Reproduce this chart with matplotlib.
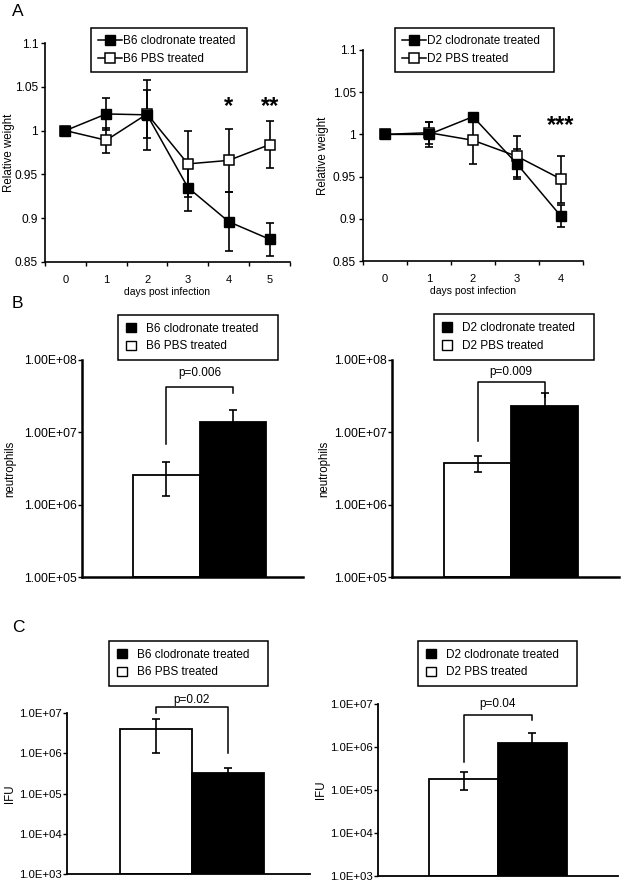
import matplotlib
matplotlib.use("Agg")
import matplotlib.pyplot as plt
import numpy as np
from matplotlib.patches import Patch
from matplotlib.ticker import FixedLocator, FuncFormatter

plt.rcParams['font.family'] = ['Liberation Sans', 'DejaVu Sans']

W, H = 623, 882

# ---------------- data ----------------
# Panel A: relative weight
b6_days = [0, 1, 2, 3, 4, 5]
b6_clod = [1.0, 1.019, 1.018, 0.935, 0.896, 0.876]
b6_clod_err = [0.0, 0.018, 0.040, 0.027, 0.034, 0.019]
b6_pbs = [1.0, 0.989, 1.019, 0.962, 0.966, 0.984]
b6_pbs_err = [0.0, 0.014, 0.027, 0.038, 0.036, 0.027]
b6_stars = {4: "*", 5: "**"}

d2_days = [0, 1, 2, 3, 4]
d2_clod = [1.0, 1.0, 1.021, 0.965, 0.903]
d2_clod_err = [0.0, 0.015, 0.003, 0.018, 0.013]
d2_pbs = [1.0, 1.002, 0.993, 0.974, 0.947]
d2_pbs_err = [0.0, 0.013, 0.028, 0.024, 0.028]
d2_stars = {4: "***"}

# Panel B: neutrophils (PBS, clodronate)
b6_neut = [2.6e6, 1.38e7]
b6_neut_err = [1.3e6, 6.6e6]
d2_neut = [3.76e6, 2.3e7]
d2_neut_err = [0.95e6, 1.2e7]
neut_ticks = [1e5, 1e6, 1e7, 1e8]
p_b6_neut = "p=0.006"
p_d2_neut = "p=0.009"

# Panel C: IFU (PBS, clodronate)
b6_ifu = [4.0e6, 3.2e5]
b6_ifu_err = [3.0e6, 1.0e5]
d2_ifu = [1.8e5, 1.24e6]
d2_ifu_err = [0.78e5, 0.86e6]
ifu_ticks = [1e3, 1e4, 1e5, 1e6, 1e7]
p_b6_ifu = "p=0.02"
p_d2_ifu = "p=0.04"

fig = plt.figure(figsize=(W / 100, H / 100), dpi=100)


def ax_px(l, t, r, b):
    return fig.add_axes([l / W, 1 - b / H, (r - l) / W, (b - t) / H])


def fig_box(l, t, r, b):
    return (l / W, 1 - b / H, (r - l) / W, (b - t) / H)


def fig_xy(x, y):
    return (x / W, 1 - y / H)


def set_ylabel_px(ax, box, text, x_right_px, size):
    ax.set_ylabel(text, fontsize=size)
    l, t, r, b = box
    ax.yaxis.set_label_coords((x_right_px - l) / (r - l), 0.5)


# ---------------- Panel A ----------------
def weight_panel(box, days, clod, clod_err, pbs, pbs_err, stars, star_y,
                 labels, leg_box, label_x):
    ax = ax_px(*box)
    for vals, errs, zo in [(pbs, pbs_err, 3), (clod, clod_err, 4)]:
        ax.errorbar(days, vals, yerr=errs, fmt='none', ecolor='black',
                    elinewidth=1.2, capsize=3, capthick=1.2, zorder=zo - 1)
    lc, = ax.plot(days, clod, color='black', lw=1.1, marker='s', ms=7.5,
                  mfc='black', mec='black', zorder=4)
    lp, = ax.plot(days, pbs, color='black', lw=1.1, marker='s', ms=7.5,
                  mfc='white', mec='black', mew=1.1, zorder=3)
    for d, s in stars.items():
        ax.text(d, star_y, s, ha='center', va='center', fontsize=17,
                fontweight='bold')
    n = len(days)
    ax.set_xlim(-0.5, n - 0.5)
    ax.set_ylim(0.85, 1.1)
    yt = [0.85, 0.9, 0.95, 1.0, 1.05, 1.1]
    ax.set_yticks(yt)
    ax.set_yticklabels(["0.85", "0.9", "0.95", "1", "1.05", "1.1"])
    ax.set_xticks(days)
    ax.set_xticklabels([str(d) for d in days])
    ax.xaxis.set_minor_locator(FixedLocator(np.arange(-0.5, n, 1.0)))
    ax.tick_params(axis='x', which='major', length=0, pad=9.5, labelsize=8)
    ax.tick_params(axis='x', which='minor', length=3, width=1, direction='out')
    ax.tick_params(axis='y', length=3, width=1, labelsize=8.6, pad=2)
    for s in ['top', 'right']:
        ax.spines[s].set_visible(False)
    for s in ['left', 'bottom']:
        ax.spines[s].set_linewidth(1.2)
    set_ylabel_px(ax, box, "Relative weight", label_x, 8.3)
    ax.set_xlabel("days post infection", fontsize=7.5, labelpad=1.5)
    leg = ax.legend([lc, lp], labels, loc='center', mode='expand',
                    bbox_to_anchor=fig_box(*leg_box),
                    bbox_transform=fig.transFigure, frameon=True,
                    fancybox=False, edgecolor='black', fontsize=8.5,
                    handlelength=2.0, handletextpad=0.1, borderpad=0.6,
                    labelspacing=0.45, borderaxespad=0, framealpha=1)
    leg.get_frame().set_linewidth(1.1)
    return ax


weight_panel((45, 43, 290, 262), b6_days, b6_clod, b6_clod_err, b6_pbs,
             b6_pbs_err, b6_stars, 1.027,
             ["B6 clodronate treated", "B6 PBS treated"], (91, 28, 247, 72), 15)
weight_panel((363, 50, 583, 261), d2_days, d2_clod, d2_clod_err, d2_pbs,
             d2_pbs_err, d2_stars, 1.011,
             ["D2 clodronate treated", "D2 PBS treated"], (395, 28, 554, 72), 329)


# ---------------- Bar panels ----------------
def bar_panel(box, xlim, ylim, ticks, fmt, vals, errs, ylabel, labels,
              leg_box, bracket, ptext, spine_w, tick_size, label_x):
    ax = ax_px(*box)
    ax.set_yscale('log')
    pos = [0, 1]
    colors = ['white', 'black']
    for p, v, e, c in zip(pos, vals, errs, colors):
        ax.bar(p, v - ylim[0], bottom=ylim[0], width=1.0, color=c,
               edgecolor='black', linewidth=1.3, zorder=2)
        ax.errorbar(p, v, yerr=e, fmt='none', ecolor='black',
                    elinewidth=1.2, capsize=3, capthick=1.2, zorder=3)
    top, lleg, rleg, ty = bracket
    ax.plot([0, 0, 1, 1], [lleg, top, top, rleg], color='black', lw=1.1,
            clip_on=False, zorder=4)
    ax.text(0.5, ty, ptext, ha='center', va='center', fontsize=8.5)
    ax.set_xlim(*xlim)
    ax.set_ylim(*ylim)
    ax.set_xticks([])
    ax.yaxis.set_major_locator(FixedLocator(ticks))
    ax.yaxis.set_minor_locator(FixedLocator([]))
    ax.yaxis.set_major_formatter(FuncFormatter(fmt))
    ax.tick_params(axis='y', length=3, width=1, labelsize=tick_size, pad=1)
    for s in ['top', 'right']:
        ax.spines[s].set_visible(False)
    ax.spines['left'].set_linewidth(spine_w)
    ax.spines['bottom'].set_linewidth(spine_w)
    set_ylabel_px(ax, box, ylabel, label_x, 8.3)
    handles = [Patch(facecolor='black', edgecolor='black'),
               Patch(facecolor='white', edgecolor='black', linewidth=1)]
    leg = ax.legend(handles, labels, loc='center', mode='expand',
                    bbox_to_anchor=fig_box(*leg_box),
                    bbox_transform=fig.transFigure, frameon=True,
                    fancybox=False, edgecolor='black', fontsize=8.5,
                    handlelength=0.85, handleheight=0.85, handletextpad=0.85,
                    borderpad=0.65, labelspacing=0.5, borderaxespad=0,
                    framealpha=1)
    leg.get_frame().set_linewidth(1.1)
    return ax


def fmt2(v, _):
    e = int(round(np.log10(v)))
    return "1.00E+%02d" % e


def fmt1(v, _):
    e = int(round(np.log10(v)))
    return "1.0E+%02d" % e


bar_panel((82, 360, 303, 577), (-1.267, 2.056), (1e5, 1e8), neut_ticks, fmt2,
          b6_neut, b6_neut_err, "neutrophils",
          ["B6 clodronate treated", "B6 PBS treated"], (118, 315, 278, 360),
          (4.2e7, 6.9e6, 3.5e7, 6.6e7), p_b6_neut, 1.8, 8.8, 16)
bar_panel((392, 360, 619, 577), (-1.276, 2.11), (1e5, 1e8), neut_ticks, fmt2,
          d2_neut, d2_neut_err, "neutrophils",
          ["D2 clodronate treated", "D2 PBS treated"], (434, 315, 594, 359),
          (5.0e7, 7.7e6, 3.1e7, 6.8e7), p_d2_neut, 1.8, 8.8, 330)
bar_panel((67, 713, 310, 874), (-1.236, 2.14), (1e3, 1e7), ifu_ticks, fmt1,
          b6_ifu, b6_ifu_err, "IFU",
          ["B6 clodronate treated", "B6 PBS treated"], (109, 641, 268, 686),
          (1.4e7, 1.0e7, 1.0e6, 2.1e7), p_b6_ifu, 1.3, 8.2, 16)
bar_panel((378, 704, 618, 876), (-1.24, 2.24), (1e3, 1e7), ifu_ticks, fmt1,
          d2_ifu, d2_ifu_err, "IFU",
          ["D2 clodronate treated", "D2 PBS treated"], (418, 641, 577, 686),
          (5.5e6, 4.5e5, 4.3e6, 1.0e7), p_d2_ifu, 1.3, 8.2, 327)

# panel letters
fig.text(*fig_xy(12, 12), "A", fontsize=12.5, va='center', ha='left')
fig.text(*fig_xy(12, 304), "B", fontsize=12.5, va='center', ha='left')
fig.text(*fig_xy(12, 627), "C", fontsize=12.5, va='center', ha='left')

fig.savefig("out.png", dpi=100)
